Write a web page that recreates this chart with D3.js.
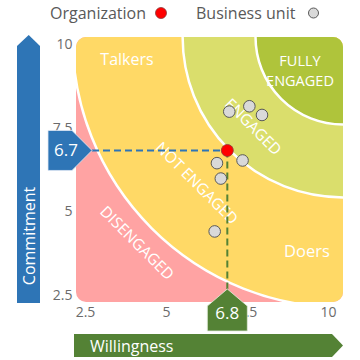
<!DOCTYPE html>
<html>
<head>
<meta charset="utf-8">
<script src="https://cdn.jsdelivr.net/npm/d3@7"></script>
<style>
  body { margin: 0; background: #fff; }
  text { font-family: "Open Sans", "DejaVu Sans", sans-serif; }
</style>
</head>
<body>
<div id="wrapper"></div>
<script>
// data
const xTicks = [2.5, 5, 7.5, 10]
const yTicks = [2.5, 5, 7.5, 10]
const organization = { x: 6.8, y: 6.7 }
const businessUnits = [
  { x: 6.86, y: 7.86 },
  { x: 7.48, y: 8.02 },
  { x: 7.87, y: 7.76 },
  { x: 6.48, y: 6.32 },
  { x: 7.27, y: 6.40 },
  { x: 6.60, y: 5.86 },
  { x: 6.41, y: 4.28 },
]
// bands measured as distance from the top-right corner (axis units)
const zoneNames = ["DISENGAGED", "NOT ENGAGED", "ENGAGED", "FULLY ENGAGED"]
const zoneRadii = [Infinity, 8.35, 4.95, 2.7]
const zoneLabelRadii = [8.97, 6.36, 3.9, null]
const zoneColors = ["#ffa3a3", "#ffd966", "#dade6c", "#afc43b"]

function draw() {
  const dimensions = { width: 360, height: 360 }
  const panel = { left: 76, right: 343, top: 37, bottom: 302 }

  const svg = d3.select("#wrapper")
    .append("svg")
    .attr("width", dimensions.width)
    .attr("height", dimensions.height)

  const xScale = d3.scaleLinear().domain([2.5, 10]).range([88, 331])
  const yScale = d3.scaleLinear().domain([2.5, 10]).range([291, 40])
  const k = xScale(1) - xScale(0)

  // zones
  svg.append("clipPath").attr("id", "panel")
    .append("rect")
    .attr("x", panel.left).attr("y", panel.top)
    .attr("width", panel.right - panel.left)
    .attr("height", panel.bottom - panel.top)
    .attr("rx", 10)

  const zones = svg.append("g").attr("clip-path", "url(#panel)")
  zones.append("rect")
    .attr("x", panel.left).attr("y", panel.top)
    .attr("width", panel.right - panel.left)
    .attr("height", panel.bottom - panel.top)
    .attr("fill", zoneColors[0])

  zones.selectAll("circle")
    .data(zoneRadii.slice(1))
    .join("circle")
      .attr("cx", panel.right)
      .attr("cy", panel.top)
      .attr("r", d => d * k)
      .attr("fill", (d, i) => zoneColors[i + 1])
      .attr("stroke", "#fff")
      .attr("stroke-width", 2.5)

  const white = "#fff"
  // rotated zone labels along the diagonal
  zoneNames.slice(0, 3).forEach((name, i) => {
    const r = zoneLabelRadii[i] * k
    const cx = panel.right - r * Math.SQRT1_2
    const cy = panel.top + r * Math.SQRT1_2
    svg.append("text")
      .attr("transform", `translate(${cx},${cy}) rotate(45)`)
      .attr("text-anchor", "middle")
      .attr("dominant-baseline", "central")
      .attr("fill", white)
      .style("font-size", "15.5px")
      .text(name)
  })

  const fully = svg.append("text")
    .attr("text-anchor", "middle").attr("fill", white)
    .style("font-size", "14.5px")
  fully.append("tspan").attr("x", 300).attr("y", 66).text("FULLY")
  fully.append("tspan").attr("x", 300).attr("y", 86).text("ENGAGED")

  svg.append("text").attr("x", 127).attr("y", 65)
    .attr("text-anchor", "middle").attr("fill", white)
    .style("font-size", "16px").text("Talkers")
  svg.append("text").attr("x", 307).attr("y", 257)
    .attr("text-anchor", "middle").attr("fill", white)
    .style("font-size", "16.5px").text("Doers")

  // tick labels
  svg.selectAll(".ylab")
    .data(yTicks)
    .join("text")
      .attr("class", "ylab")
      .attr("x", 72.5)
      .attr("y", d => yScale(d) + 4)
      .attr("dy", "0.35em")
      .attr("text-anchor", "end")
      .attr("fill", "#6b6b6b")
      .style("font-size", "14px")
      .text(d => d)

  svg.selectAll(".xlab")
    .data(xTicks)
    .join("text")
      .attr("class", "xlab")
      .attr("x", d => xScale(d) - 2.5)
      .attr("y", 312)
      .attr("dy", "0.35em")
      .attr("text-anchor", "middle")
      .attr("fill", "#6b6b6b")
      .style("font-size", "14px")
      .text(d => d)

  // guide lines to the organization point
  const ox = xScale(organization.x)
  const oy = yScale(organization.y)
  svg.append("line")
    .attr("x1", 92).attr("x2", ox)
    .attr("y1", oy).attr("y2", oy)
    .attr("stroke", "#2e75b6").attr("stroke-width", 2)
    .attr("stroke-dasharray", "7,4")
  svg.append("line")
    .attr("x1", ox).attr("x2", ox)
    .attr("y1", oy).attr("y2", 289)
    .attr("stroke", "#548235").attr("stroke-width", 2)
    .attr("stroke-dasharray", "7,4")

  // callouts
  svg.append("path")
    .attr("d", `M48,${oy - 20}H72L92,${oy}L72,${oy + 20}H48Z`)
    .attr("fill", "#2e75b6").attr("stroke", "#dfe9f5").attr("stroke-width", 0.8)
  svg.append("text")
    .attr("x", 66).attr("y", oy).attr("dy", "0.35em")
    .attr("text-anchor", "middle").attr("fill", white)
    .style("font-size", "17px").text(organization.y)

  svg.append("path")
    .attr("d", `M${ox},289L${ox + 20},306V331H${ox - 20}V306Z`)
    .attr("fill", "#548235").attr("stroke", "#e3ecdc").attr("stroke-width", 0.8)
  svg.append("text")
    .attr("x", ox).attr("y", 313).attr("dy", "0.35em")
    .attr("text-anchor", "middle").attr("fill", white)
    .style("font-size", "17px").text(organization.x)

  // points
  svg.selectAll(".bu")
    .data(businessUnits)
    .join("circle")
      .attr("class", "bu")
      .attr("cx", d => xScale(d.x))
      .attr("cy", d => yScale(d.y))
      .attr("r", 5.8)
      .attr("fill", "#d9d9d9")
      .attr("stroke", "#595959")
      .attr("stroke-width", 1)

  svg.append("circle")
    .attr("cx", ox).attr("cy", oy).attr("r", 6)
    .attr("fill", "#ff0000").attr("stroke", "#8a3a3a").attr("stroke-width", 0.8)

  // axis arrows
  svg.append("path")
    .attr("d", "M17,46L28.7,35L40,46V303H17Z")
    .attr("fill", "#2e75b6")
  svg.append("text")
    .attr("transform", "translate(28.5,236) rotate(-90)")
    .attr("text-anchor", "middle").attr("dominant-baseline", "central")
    .attr("fill", white).style("font-size", "16px")
    .text("Commitment")

  svg.append("path")
    .attr("d", "M74,334H332L343,345.5L332,357H74Z")
    .attr("fill", "#548235")
  svg.append("text")
    .attr("x", 90).attr("y", 345.5).attr("dominant-baseline", "central")
    .attr("fill", white).style("font-size", "16px")
    .text("Willingness")

  // legend
  svg.append("text").attr("x", 50).attr("y", 19)
    .attr("fill", "#595959").style("font-size", "16px").text("Organization")
  svg.append("circle").attr("cx", 161).attr("cy", 13).attr("r", 5.5)
    .attr("fill", "#ff0000").attr("stroke", "#8a3a3a").attr("stroke-width", 0.8)
  svg.append("text").attr("x", 196).attr("y", 19)
    .attr("fill", "#595959").style("font-size", "16px").text("Business unit")
  svg.append("circle").attr("cx", 313.5).attr("cy", 13).attr("r", 5)
    .attr("fill", "#d9d9d9").attr("stroke", "#595959").attr("stroke-width", 1)
}

draw()
</script>
</body>
</html>
